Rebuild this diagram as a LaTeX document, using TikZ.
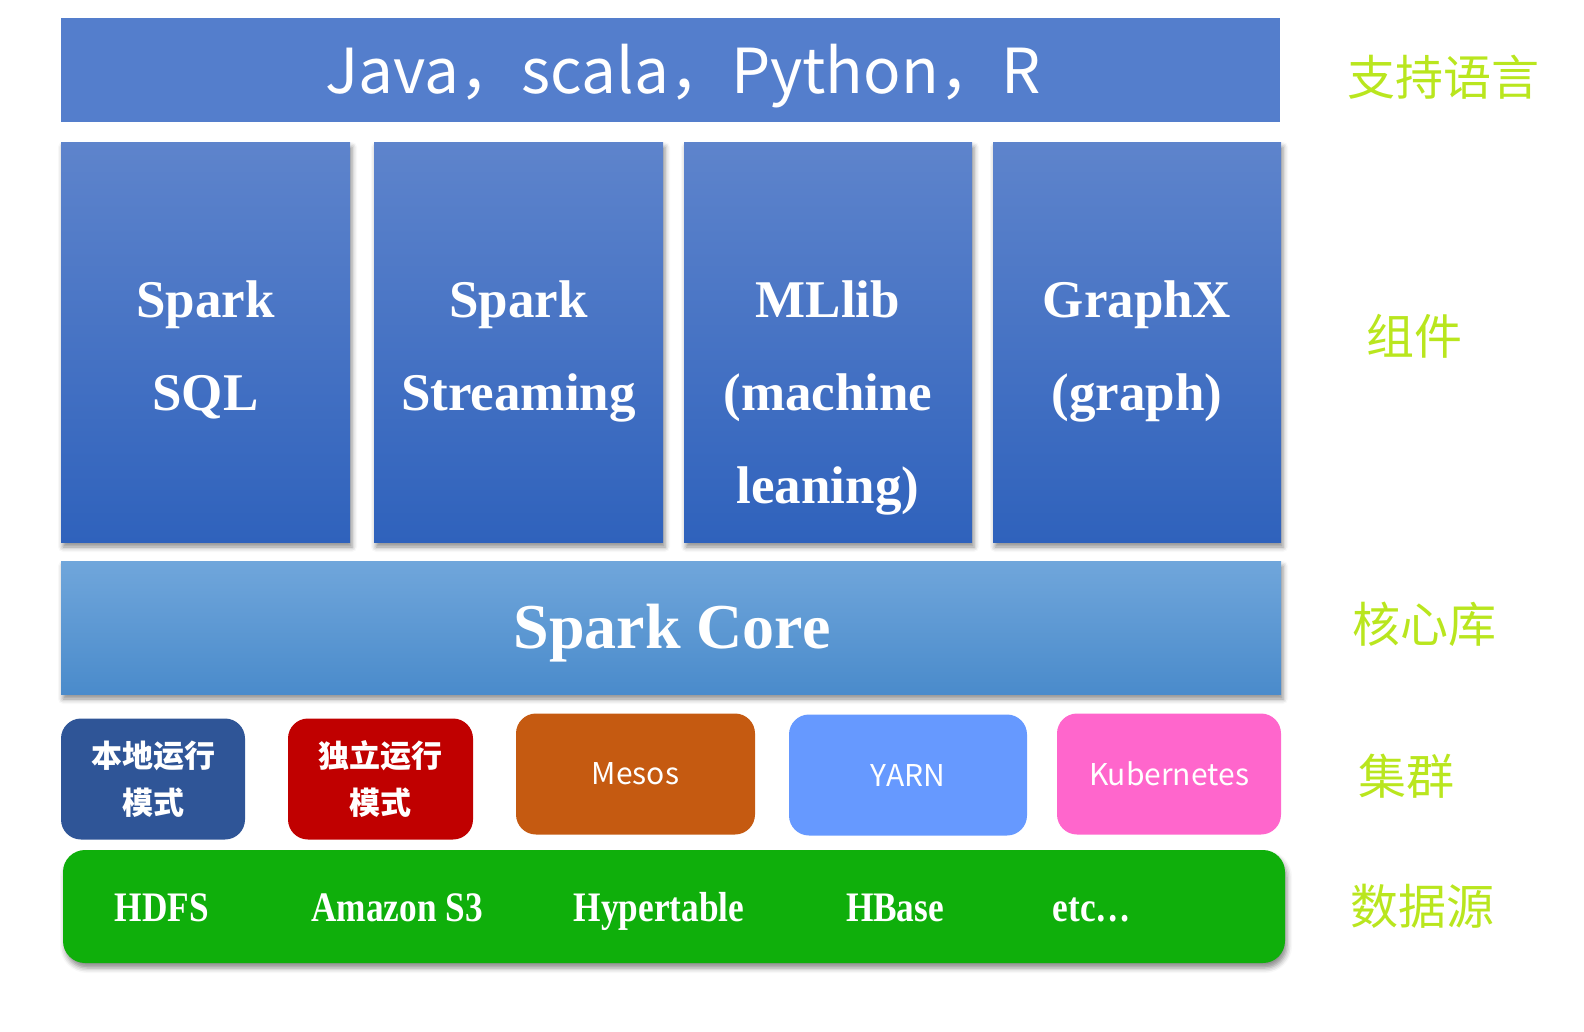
\documentclass[tikz,border=0pt]{standalone}
\usepackage{fontspec}
\setmainfont{Liberation Serif}
\newfontfamily\cjk{Noto Sans CJK SC}
\usetikzlibrary{shadows.blur}
\definecolor{topbar}{HTML}{547ECC}
\definecolor{comptop}{HTML}{5E84CC}
\definecolor{compbot}{HTML}{2F62BC}
\definecolor{coretop}{HTML}{70A6DB}
\definecolor{corebot}{HTML}{4A8BCB}
\definecolor{cl1}{HTML}{2F5597}
\definecolor{cl2}{HTML}{C00000}
\definecolor{cl3}{HTML}{C55A11}
\definecolor{cl4}{HTML}{6699FF}
\definecolor{cl5}{HTML}{FF66CC}
\definecolor{green}{HTML}{0FAF0B}
\definecolor{lime}{HTML}{B9E61E}
\newcommand{\cond}[1]{\scalebox{0.84}[1]{#1}}
\tikzset{
  sh/.style={blur shadow={shadow xshift=2pt, shadow yshift=-5pt, shadow blur radius=5pt, shadow opacity=45}},
  compbox/.style={rectangle, inner sep=0pt, top color=comptop, bottom color=compbot, sh},
  comptext/.style={text=white, inner sep=0pt, font=\fontsize{53}{60}\selectfont\bfseries, anchor=base},
  clbox/.style={rectangle, rounded corners=20pt, inner sep=0pt, text=white, align=center},
  cltext/.style={font=\cjk\bfseries\fontsize{31}{47}\selectfont},
  clsans/.style={font=\cjk\fontsize{30}{34}\selectfont},
  dstext/.style={text=white, inner sep=0pt, font=\fontsize{42}{46}\selectfont\bfseries, anchor=base},
  side/.style={text=lime, font=\cjk\fontsize{48}{52}\selectfont}
}
\begin{document}
\begin{tikzpicture}[x=1pt, y=-1pt]
\useasboundingbox (0,0) rectangle (1584,1031);
% top bar
\node[rectangle, inner sep=0pt, fill=topbar, minimum width=1219pt, minimum height=104pt] (lang) at (670.5,70) {};
\node[text=white, font=\cjk\fontsize{62}{66}\selectfont] (langtext) at (683,76) {Java，scala，Python，R};
% components
\node[compbox, minimum width=289pt, minimum height=400pt] (c1) at (205.5,342) {};
\node[compbox, minimum width=289pt, minimum height=400pt] (c2) at (518.5,342) {};
\node[compbox, minimum width=288pt, minimum height=400pt] (c3) at (828,342) {};
\node[compbox, minimum width=288pt, minimum height=400pt] (c4) at (1137,342) {};
\node[comptext] (t1a) at (205.5,317) {Spark};
\node[comptext] (t1b) at (205.5,410) {SQL};
\node[comptext] (t2a) at (518.5,317) {Spark};
\node[comptext] (t2b) at (518.5,410) {Streaming};
\node[comptext] (t3a) at (828,317) {MLlib};
\node[comptext] (t3b) at (828,410) {(machine};
\node[comptext] (t3c) at (828,503) {leaning)};
\node[comptext] (t4a) at (1137,317) {GraphX};
\node[comptext] (t4b) at (1137,410) {(graph)};
% core
\node[rectangle, inner sep=0pt, top color=coretop, bottom color=corebot, sh, minimum width=1220pt, minimum height=133pt] (core) at (671,627.5) {};
\node[text=white, font=\fontsize{64}{70}\selectfont\bfseries] (coretext) at (672,633) {Spark Core};
% cluster
\node[clbox, cltext, fill=cl1, minimum width=184pt, minimum height=121pt] (k1) at (153,779) {本地运行\\模式};
\node[clbox, cltext, fill=cl2, minimum width=185pt, minimum height=121pt] (k2) at (380.5,779) {独立运行\\模式};
\node[clbox, clsans, fill=cl3, minimum width=239pt, minimum height=121pt] (k3) at (635.5,774) {Mesos};
\node[clbox, clsans, fill=cl4, minimum width=238pt, minimum height=121pt] (k4) at (908,775) {YARN};
\node[clbox, clsans, fill=cl5, minimum width=224pt, minimum height=121pt] (k5) at (1169,774) {Kubernetes};
% data sources
\node[rectangle, rounded corners=22pt, inner sep=0pt, fill=green, sh, minimum width=1222pt, minimum height=113pt] (ds) at (674,906.5) {};
\node[dstext] (d1) at (162,921) {\cond{HDFS}};
\node[dstext] (d2) at (397,921) {\cond{Amazon S3}};
\node[dstext] (d3) at (659,921) {\cond{Hypertable}};
\node[dstext] (d4) at (895,921) {\cond{HBase}};
\node[dstext] (d5) at (1092,921) {\cond{etc…}};
% side labels
\node[side] (s1) at (1443,77) {支持语言};
\node[side] (s2) at (1414,336) {组件};
\node[side] (s3) at (1424,624) {核心库};
\node[side] (s4) at (1406,776) {集群};
\node[side] (s5) at (1422,906) {数据源};
\end{tikzpicture}
\end{document}
